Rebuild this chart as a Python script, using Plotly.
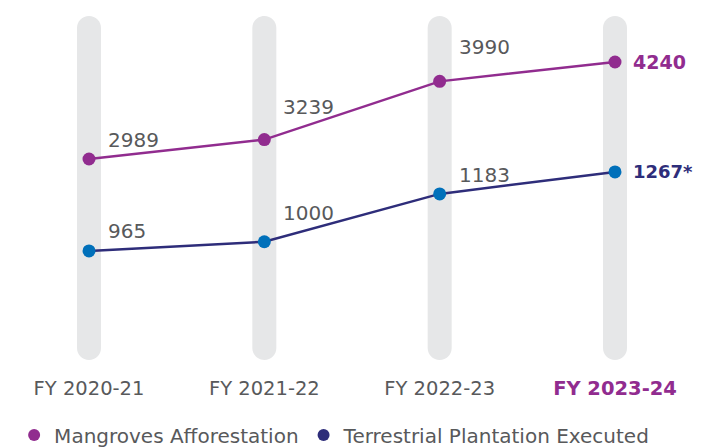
import plotly.graph_objects as go

years = ["FY 2020-21", "FY 2021-22", "FY 2022-23", "FY 2023-24"]
mangroves = [2989, 3239, 3990, 4240]
terrestrial = [965, 1000, 1183, 1267]
terrestrial_labels = ["965", "1000", "1183", "1267*"]
series_names = ["Mangroves Afforestation", "Terrestrial Plantation Executed"]

PURPLE = "#912C8F"
NAVY = "#2E2D7A"
BLUE = "#0070BA"
GREY_TXT = "#58595B"
PILL = "#E6E7E8"
FONT = "DejaVu Sans"

xs = list(range(len(years)))

fig = go.Figure()

# lines
fig.add_trace(go.Scatter(x=xs, y=mangroves, mode="lines+markers", yaxis="y",
                         line=dict(color=PURPLE, width=2.5),
                         marker=dict(color=PURPLE, size=13), showlegend=False,
                         hoverinfo="skip"))
fig.add_trace(go.Scatter(x=xs, y=terrestrial, mode="lines+markers", yaxis="y2",
                         line=dict(color=NAVY, width=2.5),
                         marker=dict(color=BLUE, size=13), showlegend=False,
                         hoverinfo="skip"))
# legend entries
fig.add_trace(go.Scatter(x=[None], y=[None], mode="markers", name=series_names[0],
                         marker=dict(color=PURPLE, size=12)))
fig.add_trace(go.Scatter(x=[None], y=[None], mode="markers", name=series_names[1],
                         marker=dict(color=NAVY, size=12)))

# pills (rounded grey columns)
half_w, half_h, r = 12, 172, 12
k = 0.5523 * r
pill_path = (f"M {-half_w} {-(half_h - r)} L {-half_w} {half_h - r} "
             f"C {-half_w} {half_h - r + k} {-k} {half_h} 0 {half_h} "
             f"C {k} {half_h} {half_w} {half_h - r + k} {half_w} {half_h - r} "
             f"L {half_w} {-(half_h - r)} "
             f"C {half_w} {-(half_h - r + k)} {k} {-half_h} 0 {-half_h} "
             f"C {-k} {-half_h} {-half_w} {-(half_h - r + k)} {-half_w} {-(half_h - r)} Z")
shapes = []
for xi in xs:
    shapes.append(dict(type="path", xref="x", yref="paper", xsizemode="pixel",
                       ysizemode="pixel", xanchor=xi, yanchor=0.5, path=pill_path,
                       fillcolor=PILL, line=dict(width=0), layer="below"))

# value labels
annotations = []
m_shift = [-19, -33, -34]
t_shift = [-20, -29, -19]
last = len(xs) - 1
for i in xs:
    if i < last:
        annotations.append(dict(x=i, y=mangroves[i], yref="y", xref="x", text=str(mangroves[i]),
                                showarrow=False, xanchor="left", yanchor="middle",
                                xshift=17, yshift=-m_shift[i],
                                font=dict(family=FONT, size=20, color=GREY_TXT)))
        annotations.append(dict(x=i, y=terrestrial[i], yref="y2", xref="x", text=terrestrial_labels[i],
                                showarrow=False, xanchor="left", yanchor="middle",
                                xshift=17, yshift=-t_shift[i],
                                font=dict(family=FONT, size=20, color=GREY_TXT)))
    else:
        annotations.append(dict(x=i, y=mangroves[i], yref="y", xref="x",
                                text=f"<b>{mangroves[i]}</b>",
                                showarrow=False, xanchor="left", yanchor="middle", xshift=16,
                                font=dict(family=FONT, size=19, color=PURPLE)))
        annotations.append(dict(x=i, y=terrestrial[i], yref="y2", xref="x",
                                text=f"<b>{terrestrial_labels[i]}</b>",
                                showarrow=False, xanchor="left", yanchor="middle", xshift=16,
                                font=dict(family=FONT, size=18, color=NAVY)))

ticktext = [y if i < last else f"<b><span style='color:{PURPLE}'>{y}</span></b>"
            for i, y in enumerate(years)]

fig.update_layout(
    width=706, height=448,
    margin=dict(l=0, r=0, t=16, b=88, autoexpand=False),
    paper_bgcolor="white", plot_bgcolor="white",
    font=dict(family=FONT, size=20, color=GREY_TXT),
    xaxis=dict(range=[-0.5076, 3.519], tickvals=xs, ticktext=ticktext,
               showgrid=False, zeroline=False, showline=False, ticks="",
               ticklabelstandoff=14, tickfont=dict(size=19.5, color=GREY_TXT),
               automargin=False),
    yaxis=dict(range=[397, 4833], visible=False, showgrid=False),
    yaxis2=dict(range=[548, 1863], visible=False, overlaying="y", showgrid=False),
    showlegend=True,
    legend=dict(orientation="h", x=0.02, xanchor="left",
                yref="container", y=(448 - 435) / 448, yanchor="middle",
                font=dict(family=FONT, size=20, color=GREY_TXT),
                itemwidth=30, tracegroupgap=0),
    shapes=shapes, annotations=annotations,
)

fig.write_html("out.html", config={"displayModeBar": False},
               post_script="document.body.style.margin='0';document.body.style.padding='0';")
